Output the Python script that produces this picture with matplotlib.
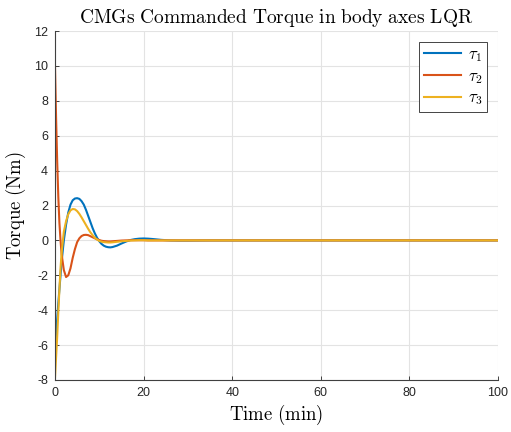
import numpy as np
import matplotlib.pyplot as plt

plt.rcParams['font.family'] = 'Liberation Sans'
plt.rcParams['mathtext.fontset'] = 'cm'
plt.rcParams['axes.unicode_minus'] = False

# time samples (min)
t = [0, 0.25, 0.5, 0.75, 1, 1.25, 1.5, 2, 2.5, 3, 3.5, 4, 4.5, 5, 5.5, 6, 6.5, 7, 7.5, 8,
     8.5, 9, 9.5, 10, 10.5, 11, 11.5, 12, 12.5, 13, 14, 15, 16, 17, 18, 19, 20, 21, 22,
     24, 26, 28, 30, 35, 40, 50, 60, 70, 80, 90, 100]

# torque values (Nm)
tau1 = [-6.2, -5.3, -4.5, -3.6, -2.8, -2.0, -1.2, 0.0, 0.9, 1.6, 2.05, 2.3, 2.4, 2.42, 2.38, 2.25,
        2.05, 1.75, 1.4, 1.05, 0.7, 0.4, 0.15, -0.05, -0.2, -0.3, -0.36, -0.39, -0.4, -0.38,
        -0.3, -0.18, -0.07, 0.02, 0.07, 0.1, 0.11, 0.1, 0.08, 0.03, 0.0, -0.01, -0.01, 0, 0,
        0, 0, 0, 0, 0, 0]
tau2 = [10.0, 7.0, 4.5, 2.5, 1.0, 0.0, -0.8, -1.7, -2.1, -2.0, -1.6, -1.0, -0.5, -0.1, 0.12, 0.25,
        0.31, 0.32, 0.3, 0.24, 0.18, 0.12, 0.06, 0.02, -0.02, -0.04, -0.05, -0.06, -0.06, -0.05,
        -0.03, -0.01, 0.0, 0.01, 0.01, 0.01, 0.01, 0.0, 0, 0, 0, 0, 0, 0, 0,
        0, 0, 0, 0, 0, 0]
tau3 = [-7.9, -6.7, -5.5, -4.1, -2.8, -1.6, -0.7, 0.5, 1.1, 1.5, 1.72, 1.8, 1.78, 1.68, 1.52, 1.32,
        1.1, 0.88, 0.66, 0.46, 0.3, 0.15, 0.05, -0.03, -0.07, -0.1, -0.11, -0.12, -0.12, -0.11,
        -0.08, -0.05, -0.03, -0.01, 0.0, 0.01, 0.01, 0.0, 0, 0, 0, 0, 0, 0, 0,
        0, 0, 0, 0, 0, 0]

fig = plt.figure(figsize=(5.11, 4.32), dpi=100)
ax = fig.add_axes([0.1076, 0.1204, 0.867, 0.8078])

ax.plot(t, tau1, color='#0072BD', lw=1.5, label=r'$\tau_1$')
ax.plot(t, tau2, color='#D95319', lw=1.5, label=r'$\tau_2$')
ax.plot(t, tau3, color='#EDB120', lw=1.5, label=r'$\tau_3$')

ax.set_xlim(0, 100)
ax.set_ylim(-8, 12)
ax.set_xticks(np.arange(0, 101, 20))
ax.set_yticks(np.arange(-8, 13, 2))
ax.grid(True, color='#e3e3e3', lw=0.8)
ax.set_axisbelow(True)
for s in ['top', 'right']:
    ax.spines[s].set_visible(False)
for s in ['left', 'bottom']:
    ax.spines[s].set_color('#404040')
    ax.spines[s].set_linewidth(0.8)
ax.tick_params(direction='in', length=3, width=0.6, colors='#262626', labelsize=9)
ax.tick_params(axis='x', pad=5)
ax.tick_params(axis='y', pad=5)

ax.set_title(r'$\mathrm{CMGs\ Commanded\ Torque\ in\ body\ axes\ LQR}$', fontsize=14, pad=6)
ax.set_xlabel(r'$\mathrm{Time\ (min)}$', fontsize=13.5, labelpad=3)
ax.set_ylabel(r'$\mathrm{Torque\ (Nm)}$', fontsize=13.5, labelpad=4)

leg = ax.legend(loc='upper right', fontsize=12, fancybox=False, framealpha=1,
                edgecolor='#262626', handlelength=2.2, handletextpad=0.4,
                borderpad=0.3, labelspacing=0.3, borderaxespad=0.65)
leg.get_frame().set_linewidth(0.6)

fig.savefig('out.png', dpi=100)
